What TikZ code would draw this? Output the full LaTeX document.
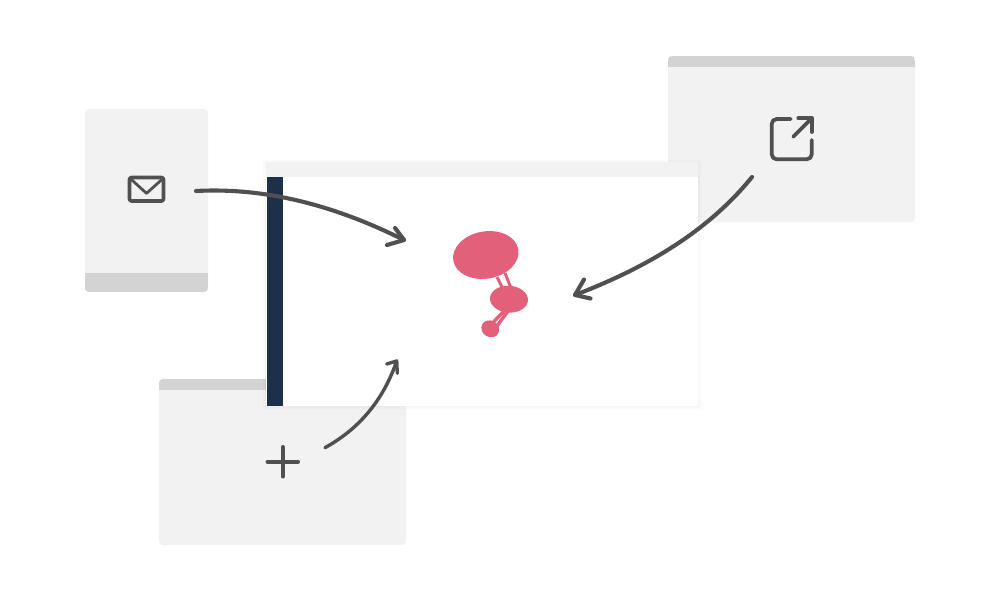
\documentclass[tikz,border=0pt]{standalone}
\definecolor{cardgrey}{HTML}{F2F2F2}
\definecolor{bandgrey}{HTML}{D3D3D3}
\definecolor{navybar}{HTML}{1C3049}
\definecolor{blobpink}{HTML}{E3607A}
\definecolor{inkgrey}{HTML}{505050}
\tikzset{
  card/.style={fill=cardgrey,draw=none,inner sep=0pt,outer sep=0pt,rounded corners=4pt},
  bandbottom/.style={path picture={\fill[bandgrey,sharp corners] (path picture bounding box.south west) rectangle ([yshift=#1]path picture bounding box.south east);}},
  bandtop/.style={path picture={\fill[bandgrey,sharp corners] (path picture bounding box.north west) rectangle ([yshift=-#1]path picture bounding box.north east);}},
  icon/.style={draw=inkgrey,line width=3.8pt,line cap=round,line join=round},
  flow/.style={draw=inkgrey,line width=#1,line cap=round,line join=round},
  flow/.default=4.1pt,
  blob/.style={fill=blobpink,draw=none},
  bloblink/.style={draw=blobpink,line width=3pt}
}
\begin{document}
\begin{tikzpicture}[x=1pt,y=-1pt]
\useasboundingbox (0,0) rectangle (1000,600);
% cards
\node[card,bandbottom=19pt,minimum width=123pt,minimum height=183pt] (mailcard) at (146.5,200.5) {};
\node[card,bandtop=11pt,minimum width=247pt,minimum height=166pt] (sharecard) at (791.5,139) {};
\node[card,bandtop=11pt,minimum width=247pt,minimum height=166pt] (pluscard) at (282.5,462) {};
% main window shadow
\foreach \s in {4,3,2,1}{
  \fill[black,opacity=0.009] (266-\s,162-\s+1) rectangle (698+\s,406+\s);
}
\fill[white] (266,162) rectangle (698,406);
\fill[cardgrey] (266,162) rectangle (698,177);
\fill[navybar] (267,177) rectangle (283,406);
% blob links
\draw[bloblink] (497,277) -- (502.5,288);
\draw[bloblink] (505,273) -- (511,288);
\draw[bloblink,line width=3.4pt] (493.5,322) -- (505,310);
\draw[bloblink,line width=3.4pt] (497,326) -- (508,311);
% blobs
\fill[blob] (485.8,255) ellipse [x radius=33,y radius=23.6,rotate=10];
\fill[blob] (509,299.2) ellipse [x radius=19,y radius=13.4,rotate=-4];
\fill[blob] (490.3,328.8) ellipse [x radius=9.2,y radius=8.2,rotate=-30];
% mail icon
\draw[icon,line width=3.6pt,rounded corners=2pt] (129.5,177.5) rectangle (163.5,201);
\draw[icon,line width=2.8pt] (130,178.3) -- (146.5,193.3) -- (163.3,178.3);
% share icon
\draw[icon,rounded corners=5pt] (790.7,119) -- (771.7,119) -- (771.7,159.3) -- (811.7,159.3) -- (811.7,140);
\draw[icon] (793.3,136.7) -- (811.7,118.3);
\draw[icon] (798.3,118.3) -- (811.7,118.3) -- (811.7,132);
% plus icon
\draw[icon,line width=4pt] (267.5,461.7) -- (298,461.7);
\draw[icon,line width=4pt] (282.7,447) -- (282.7,476.5);
% connector ends
\coordinate (mailstart) at (196,191);
\coordinate (mailend) at (404,240);
\coordinate (sharestart) at (752,177);
\coordinate (shareend) at (575,295);
\coordinate (plusstart) at (325,447.7);
\coordinate (plusend) at (396.7,361);
% connectors
\draw[flow] (mailstart) .. controls (270,187) and (340,208) .. (mailend);
\draw[flow] (395,228) -- (mailend) -- (387,245);
\draw[flow] (sharestart) .. controls (705,235) and (640,270) .. (shareend);
\draw[flow] (584,279.5) -- (shareend) -- (590.5,298.5);
\draw[flow=3.4pt] (plusstart) .. controls (364,426) and (385,395) .. (plusend);
\draw[flow=3.4pt] (386.7,364) -- (plusend) -- (397.3,373.3);
\end{tikzpicture}
\end{document}
